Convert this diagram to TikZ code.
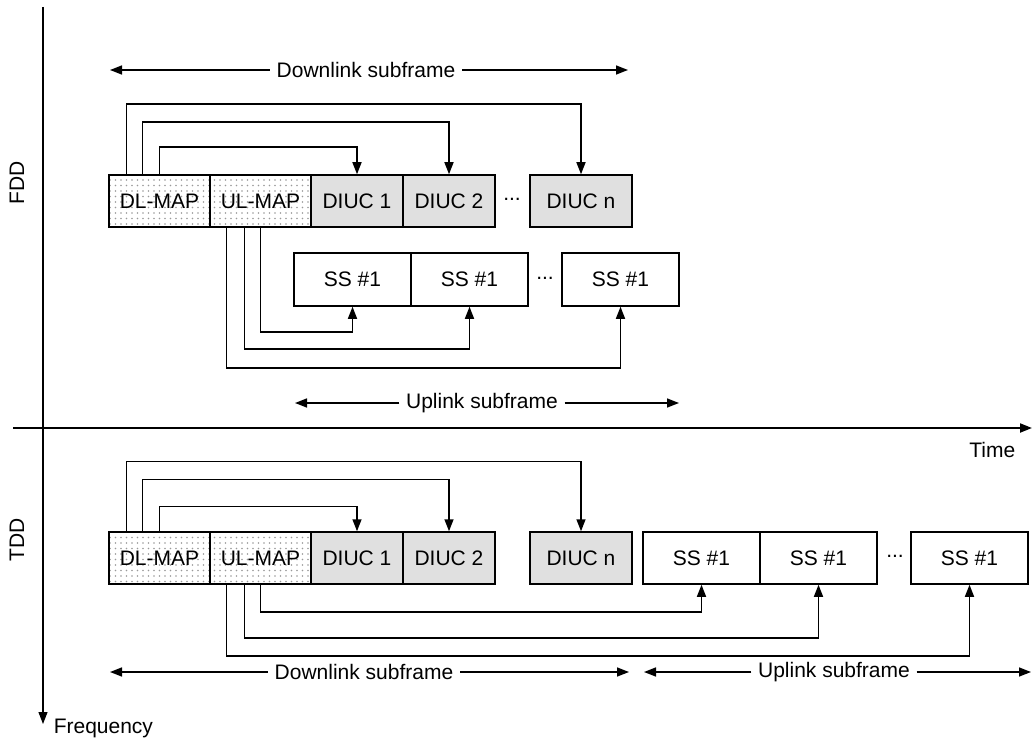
\documentclass[tikz,border=0pt]{standalone}
\usepackage{fontspec}
\setmainfont{Liberation Sans}
\usetikzlibrary{arrows.meta,patterns.meta}

\begin{document}
\begin{tikzpicture}[x=1pt, y=-1pt, line width=1.5pt,
        every node/.style={font=\fontsize{21}{25}\selectfont},
        mapbox/.style={draw, minimum height=52pt, minimum width=101pt, inner sep=0pt,
            pattern={Dots[distance=5.5pt, radius=0.8pt]}, pattern color=black!40},
        diucbox/.style={draw, fill=black!12, minimum height=52pt, minimum width=92pt, inner sep=0pt},
        ssbox/.style={draw, minimum height=53pt, minimum width=117pt, inner sep=0pt},
        sig/.style={-{Triangle[length=12pt, width=9pt]}},
        dim/.style={-{Triangle[length=12pt, width=9pt]}},
        lbl/.style={inner xsep=6pt, inner ysep=0pt}]
        \useasboundingbox (0, 0) rectangle (1034, 741);

        % axes
        \coordinate (tL) at (13, 428);
        \coordinate (tR) at (1032, 428);
        \coordinate (fT) at (43, 7);
        \coordinate (fB) at (43, 724);
        \draw[dim, line width=2pt] (tL) -- (tR);
        \draw[dim, line width=1.1pt] (fT) -- (fB);
        \node[anchor=north west, inner sep=0pt] (freq) at (53, 718) {Frequency};
        \node[anchor=north east, inner sep=0pt] (time) at (1016, 442) {Time};
        \node[rotate=90] (fdd) at (17, 183) {FDD};
        \node[rotate=90] (tdd) at (17, 540) {TDD};

        % FDD downlink
        \node[mapbox] (fDL) at (159.5, 201) {DL-MAP};
        \node[mapbox] (fUL) at (260.5, 201) {UL-MAP};
        \node[diucbox] (fD1) at (357, 201) {DIUC 1};
        \node[diucbox] (fD2) at (449, 201) {DIUC 2};
        \node (fdots) at (512, 199) {...};
        \node[diucbox, minimum width=102pt] (fDn) at (581, 201) {DIUC n};

        \draw[sig] ([xshift=18pt]fDL.north west) -- ++(0, -70) -| (fDn);
        \draw[sig] ([xshift=34pt]fDL.north west) -- ++(0, -52) -| (fD2);
        \draw[sig] ([xshift=51pt]fDL.north west) -- ++(0, -27) -| (fD1);

        % FDD uplink
        \node[ssbox] (fS1) at (352.5, 279.5) {SS \#1};
        \node[ssbox] (fS2) at (469.5, 279.5) {SS \#1};
        \node (sdots) at (545, 278) {...};
        \node[ssbox] (fSn) at (620.5, 279.5) {SS \#1};

        \draw[sig] ([xshift=51pt]fUL.south west) -- ++(0, 104) -| (fS1);
        \draw[sig] ([xshift=35pt]fUL.south west) -- ++(0, 121) -| (fS2);
        \draw[sig] ([xshift=17pt]fUL.south west) -- ++(0, 140) -| (fSn);

        \coordinate (dlA) at (110, 70);
        \coordinate (dlB) at (628, 70);
        \node[lbl] (dlLbl) at (366, 70) {Downlink subframe};
        \draw[dim] (dlLbl) -- (dlA);
        \draw[dim] (dlLbl) -- (dlB);

        \coordinate (ulA) at (295, 403);
        \coordinate (ulB) at (679, 403);
        \node[lbl] (ulLbl) at (482, 403) {Uplink subframe};
        \draw[dim] (ulLbl) -- (ulA);
        \draw[dim] (ulLbl) -- (ulB);

        % TDD
        \node[mapbox] (tDL) at (159.5, 558) {DL-MAP};
        \node[mapbox] (tUL) at (260.5, 558) {UL-MAP};
        \node[diucbox] (tD1) at (357, 558) {DIUC 1};
        \node[diucbox] (tD2) at (449, 558) {DIUC 2};
        \node[diucbox, minimum width=102pt] (tDn) at (581, 558) {DIUC n};
        \node[ssbox, minimum height=52pt] (tS1) at (701.5, 558) {SS \#1};
        \node[ssbox, minimum height=52pt] (tS2) at (818.5, 558) {SS \#1};
        \node (tdots) at (895, 556) {...};
        \node[ssbox, minimum height=52pt] (tSn) at (969.5, 558) {SS \#1};

        \draw[sig] ([xshift=18pt]tDL.north west) -- ++(0, -70) -| (tDn);
        \draw[sig] ([xshift=34pt]tDL.north west) -- ++(0, -52) -| (tD2);
        \draw[sig] ([xshift=51pt]tDL.north west) -- ++(0, -25) -| (tD1);

        \draw[sig] ([xshift=51pt]tUL.south west) -- ++(0, 27) -| (tS1);
        \draw[sig] ([xshift=35pt]tUL.south west) -- ++(0, 53) -| (tS2);
        \draw[sig] ([xshift=17pt]tUL.south west) -- ++(0, 71) -| (tSn);

        \coordinate (tdlA) at (110, 672);
        \coordinate (tdlB) at (629, 672);
        \node[lbl] (tdlLbl) at (364, 672) {Downlink subframe};
        \draw[dim] (tdlLbl) -- (tdlA);
        \draw[dim] (tdlLbl) -- (tdlB);

        \coordinate (tulA) at (644, 672);
        \coordinate (tulB) at (1031, 672);
        \node[lbl] (tulLbl) at (834, 672) {Uplink subframe};
        \draw[dim] (tulLbl) -- (tulA);
        \draw[dim] (tulLbl) -- (tulB);
\end{tikzpicture}
\end{document}
